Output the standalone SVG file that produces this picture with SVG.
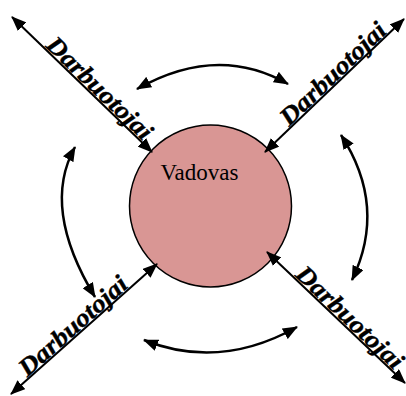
<svg xmlns="http://www.w3.org/2000/svg" width="406" height="396" viewBox="0 0 406 396">
  <defs>
    <marker id="ah" viewBox="0 0 15 12" markerUnits="userSpaceOnUse" markerWidth="15" markerHeight="12" refX="14" refY="6" orient="auto-start-reverse">
      <path d="M0,0 L15,6 L0,12 z" fill="#000"/>
    </marker>
  </defs>
  <style>
    .line { stroke:#000; stroke-width:2; fill:none; marker-start:url(#ah); marker-end:url(#ah); }
    .arc { stroke:#000; stroke-width:2.5; fill:none; marker-start:url(#ah); marker-end:url(#ah); }
    .lbl { font-family:"Liberation Serif","Times New Roman",serif; font-weight:bold; font-style:italic; font-size:25px; fill:#000; stroke:#000; stroke-width:0.4; }
    .boss { font-family:"Liberation Serif","Times New Roman",serif; font-size:23px; fill:#000; }
  </style>
  <rect width="406" height="396" fill="#fff"/>
  <g id="vadovas">
    <circle cx="210.5" cy="206" r="81" fill="#d99694" stroke="#000" stroke-width="1.5"/>
    <text class="boss" x="160.5" y="180">Vadovas</text>
  </g>
  <g id="connectors">
    <line class="line" x1="12" y1="17" x2="152" y2="152"/>
    <line class="line" x1="404" y1="19" x2="265" y2="152"/>
    <line class="line" x1="11" y1="394" x2="157" y2="264"/>
    <line class="line" x1="405" y1="383" x2="267" y2="252"/>
    <path class="arc" d="M137,89 Q217.5,43.5 288,84"/>
    <path class="arc" d="M341,135 Q387.5,206.5 352,280"/>
    <path class="arc" d="M144,340 Q219.5,370.5 297,327"/>
    <path class="arc" d="M75,147 Q41,208 95,297"/>
  </g>
  <g id="darbuotojai-tl">
    <text class="lbl" transform="translate(43.7,47.5) rotate(43.96)" x="0" y="-1.5" textLength="137" lengthAdjust="spacingAndGlyphs">Darbuotojai</text>
  </g>
  <g id="darbuotojai-tr">
    <text class="lbl" transform="translate(290,128.1) rotate(-43.74)" x="0" y="-1.5" textLength="137" lengthAdjust="spacingAndGlyphs">Darbuotojai</text>
  </g>
  <g id="darbuotojai-bl">
    <text class="lbl" transform="translate(28.2,378.7) rotate(-41.68)" x="0" y="-1.5" textLength="137" lengthAdjust="spacingAndGlyphs">Darbuotojai</text>
  </g>
  <g id="darbuotojai-br">
    <text class="lbl" transform="translate(293.1,276.8) rotate(43.5)" x="0" y="-1.5" textLength="138" lengthAdjust="spacingAndGlyphs">Darbuotojai</text>
  </g>
</svg>
